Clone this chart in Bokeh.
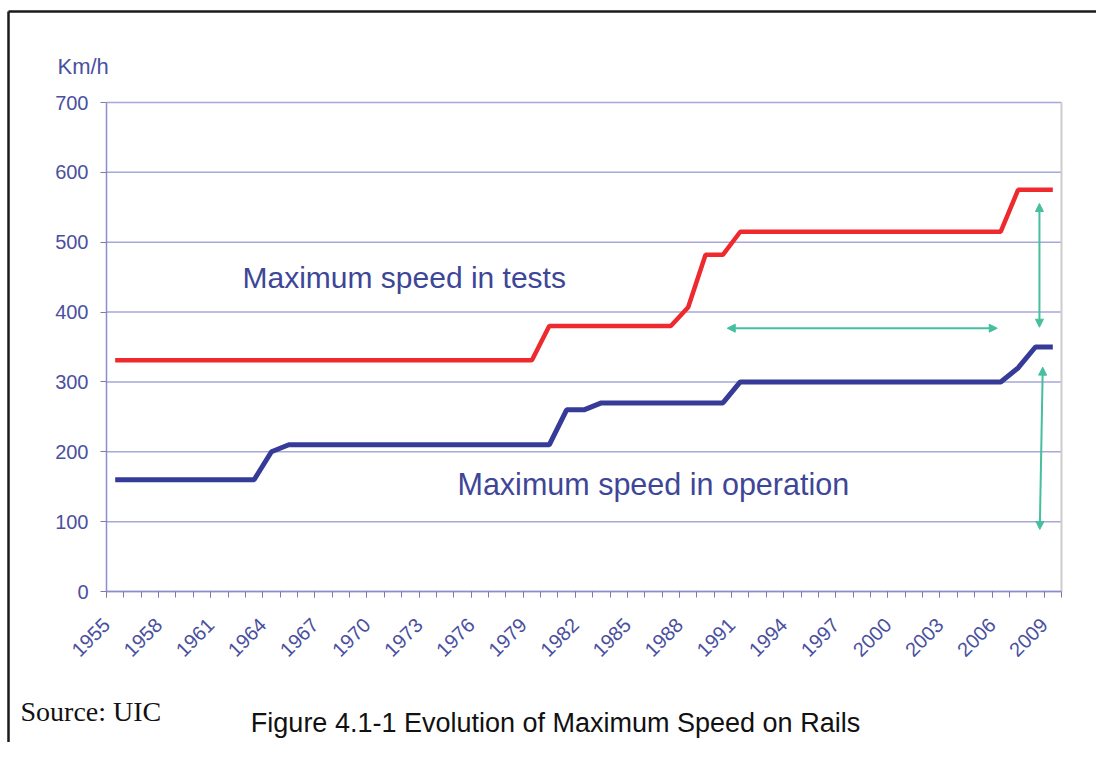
import math
from bokeh.plotting import figure
from bokeh.models import Range1d, FixedTicker, Label, Arrow, NormalHead
from bokeh.embed import file_html
from bokeh.resources import INLINE

# ---- data (km/h) ----
tests_years = [1955, 1979, 1980, 1987, 1988, 1989, 1990, 1991, 2006, 2007, 2009]
tests_speed = [331, 331, 380, 380, 407, 482, 482, 515, 515, 575, 575]

oper_years = [1955, 1963, 1964, 1965, 1980, 1981, 1982, 1983, 1990, 1991, 2006, 2007, 2008, 2009]
oper_speed = [160, 160, 200, 210, 210, 260, 260, 270, 270, 300, 300, 320, 350, 350]

y_ticks = [0, 100, 200, 300, 400, 500, 600, 700]
x_label_years = list(range(1955, 2010, 3))
all_years = list(range(1955, 2011))
x_start, x_end = 1955, 2010
y_start, y_end = 0, 700

# annotation arrows (data coords)
h_arrow = (1990.75, 376.9, 2006.30, 376.9)
v_arrow1 = (2008.73, 555.4, 2008.73, 378.3)
v_arrow2 = (2008.92, 321.1, 2008.75, 88.8)

# ---- layout: the frame fills the whole canvas, the plot area sits at these pixels ----
W, H = 1096, 742
FL, FR, FT, FB = 106, 1061, 102, 591
def dx(px):
    return x_start + (px - FL) * (x_end - x_start) / (FR - FL)
def dy(py):
    return y_start + (FB - py) * (y_end - y_start) / (FB - FT)

p = figure(width=W, height=H, x_range=Range1d(dx(0), dx(W)), y_range=Range1d(dy(H), dy(0)),
           output_backend="svg", toolbar_location=None,
           min_border=0, min_border_left=0, min_border_right=0,
           min_border_top=0, min_border_bottom=0)
p.outline_line_color = None
p.background_fill_color = "white"
p.border_fill_color = "white"
p.xgrid.visible = False
p.ygrid.visible = False

grid_col = "#a7a7d9"
axis_col = "#8d8dc9"
tick_col = "#7a7ab0"
lab_col = "#4a50a0"
big_col = "#3e4697"

# horizontal grid lines
p.segment(x0=[x_start] * len(y_ticks), x1=[x_end] * len(y_ticks), y0=y_ticks, y1=y_ticks,
          line_color=grid_col, line_width=1.5)
# right edge of plot area
p.segment(x0=[x_end], x1=[x_end], y0=[y_start], y1=[y_end], line_color="#cccccc", line_width=2)

yax = p.yaxis[0]
yax.fixed_location = x_start
yax.bounds = (y_start, y_end)
yax.ticker = FixedTicker(ticks=y_ticks)
yax.axis_line_color = axis_col
yax.axis_line_width = 1.5
yax.major_tick_line_color = tick_col
yax.major_tick_out = 6
yax.major_tick_in = 0
yax.minor_tick_line_color = None
yax.major_label_standoff = 12
yax.major_label_text_font = "Liberation Sans"
yax.major_label_text_font_size = "20px"
yax.major_label_text_color = lab_col

xax = p.xaxis[0]
xax.fixed_location = y_start
xax.bounds = (x_start, x_end)
xax.ticker = FixedTicker(ticks=x_label_years, minor_ticks=all_years)
xax.axis_line_color = axis_col
xax.axis_line_width = 1.5
xax.major_tick_line_color = tick_col
xax.minor_tick_line_color = tick_col
xax.major_tick_out = 6
xax.major_tick_in = 0
xax.minor_tick_out = 6
xax.minor_tick_in = 0
xax.major_label_orientation = math.pi / 4
xax.major_label_standoff = 24
xax.major_label_text_font = "Liberation Sans"
xax.major_label_text_font_size = "20px"
xax.major_label_text_color = lab_col

# series (points at the middle of each year slot)
p.line([y + 0.5 for y in tests_years], tests_speed, line_color="#ee2a2e", line_width=4.5)
p.line([y + 0.5 for y in oper_years], oper_speed, line_color="#363b98", line_width=5)

# arrows
teal = "#45bf9e"
for c in (h_arrow, v_arrow1, v_arrow2):
    p.add_layout(Arrow(x_start=c[0], y_start=c[1], x_end=c[2], y_end=c[3],
                       line_color=teal, line_width=2,
                       start=NormalHead(size=8, fill_color=teal, line_color=teal),
                       end=NormalHead(size=8, fill_color=teal, line_color=teal)))

def add_label(text, px, py, size, color, font="Liberation Sans", align="left"):
    p.add_layout(Label(x=dx(px), y=dy(py), text=text, text_font=font,
                       text_font_size=size, text_color=color,
                       text_align=align, text_baseline="alphabetic"))

add_label("Maximum speed in tests", 242, 277, "30px", big_col)
add_label("Maximum speed in operation", 457, 483, "30.5px", big_col)
add_label("Km/h", 57, 66, "22px", lab_col)
add_label("Source: UIC", 20, 711, "28px", "#111111", font="Liberation Serif")
add_label("Figure 4.1-1 Evolution of Maximum Speed on Rails", 555, 722, "27px", "#111111", align="center")

# outer frame lines (top and left)
p.segment(x0=[dx(8), dx(8)], x1=[dx(W), dx(8)], y0=[dy(11), dy(11)], y1=[dy(11), dy(H)],
          line_color="#1a1a1a", line_width=2.5)

open("out.html", "w").write(file_html(p, INLINE))
